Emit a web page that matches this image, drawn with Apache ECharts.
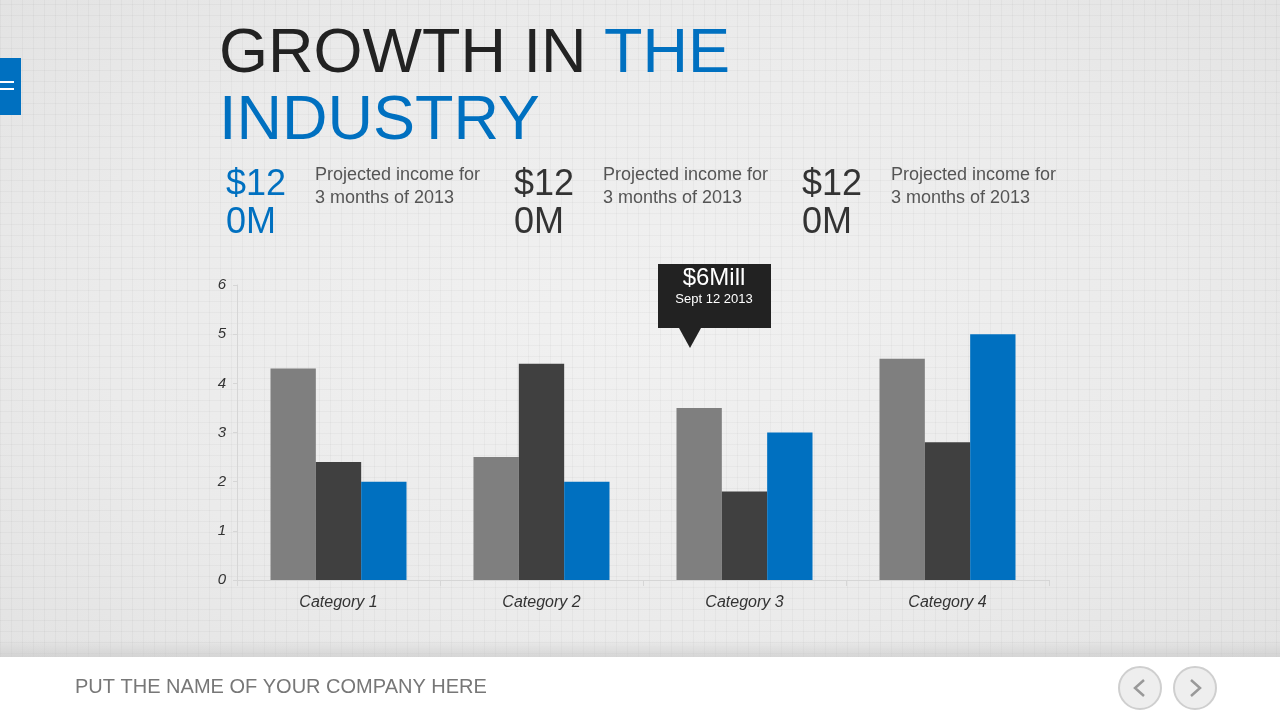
<!DOCTYPE html>
<html><head><meta charset="utf-8">
<script src="https://cdn.jsdelivr.net/npm/echarts@6/dist/echarts.min.js"></script>
<style>
html,body{margin:0;padding:0;width:1280px;height:720px;overflow:hidden;}
body{
 background:
  repeating-linear-gradient(0deg, rgba(0,0,0,0.03) 0px, rgba(0,0,0,0.03) 1px, transparent 1px, transparent 11px),
  repeating-linear-gradient(90deg, rgba(0,0,0,0.03) 0px, rgba(0,0,0,0.03) 1px, transparent 1px, transparent 11px),
  radial-gradient(ellipse 70% 70% at 50% 45%, #f1f1f1 0%, #ebebeb 60%, #e2e2e2 100%);
}
#c{width:1280px;height:720px;}
</style></head>
<body><div id="c"></div>
<script>
const categories = ['Category 1','Category 2','Category 3','Category 4'];
const series1 = [4.3, 2.5, 3.5, 4.5];
const series2 = [2.4, 4.4, 1.8, 2.8];
const series3 = [2.0, 2.0, 3.0, 5.0];
const yTicks = [0,1,2,3,4,5,6];

const hand = "'Segoe Print','Comic Sans MS','Liberation Sans',sans-serif";
const chart = echarts.init(document.getElementById('c'), null, {renderer:'canvas'});

function statBlock(x, color){
  return [
    {type:'text', left:x, top:167, style:{text:'$12', font:'36px '+hand, fill:color}},
    {type:'text', left:x, top:205, style:{text:'0M', font:'36px '+hand, fill:color}},
    {type:'text', left:x+89, top:164, style:{text:'Projected income for\n3 months of 2013', font:'18px "Liberation Sans", Arial, sans-serif', fill:'#555', lineHeight:23}}
  ];
}

const option = {
  animation:false,
  backgroundColor:'transparent',
  grid:{left:237, right:231, top:285, bottom:140, containLabel:false},
  xAxis:{type:'category', data:categories,
    axisLine:{lineStyle:{color:'#d6d6d6'}},
    axisTick:{show:true, length:6, lineStyle:{color:'#d6d6d6'}},
    axisLabel:{color:'#333', fontFamily:hand, fontStyle:'italic', fontSize:16, margin:15}},
  yAxis:{type:'value', min:0, max:6, interval:1,
    axisLine:{show:true, lineStyle:{color:'#d6d6d6'}},
    axisTick:{show:true, length:4, lineStyle:{color:'#d6d6d6'}},
    splitLine:{show:false},
    axisLabel:{color:'#333', fontFamily:hand, fontStyle:'italic', fontSize:15, margin:11,
      formatter:v=>yTicks.includes(v)?String(v):''}},
  series:[
    {type:'bar', data:series1, itemStyle:{color:'#7f7f7f'}, barGap:'0%', barCategoryGap:'33%'},
    {type:'bar', data:series2, itemStyle:{color:'#404040'}, barGap:'0%', barCategoryGap:'33%'},
    {type:'bar', data:series3, itemStyle:{color:'#0070c0'}, barGap:'0%', barCategoryGap:'33%'}
  ],
  graphic:[
    // left blue tab
    {type:'rect', shape:{x:0,y:58,width:21,height:57}, style:{fill:'#0070c0'}},
    {type:'rect', shape:{x:0,y:81,width:14,height:2}, style:{fill:'#fff'}},
    {type:'rect', shape:{x:0,y:88,width:14,height:2}, style:{fill:'#fff'}},
    // title
    {type:'text', left:219, top:23, style:{
      text:'{k|GROWTH IN }{b|THE}', rich:{k:{font:'63px '+hand, fill:'#222'}, b:{font:'63px '+hand, fill:'#0070c0'}}}},
    {type:'text', left:219, top:90, style:{text:'INDUSTRY', font:'63px '+hand, fill:'#0070c0'}},
    ...statBlock(226, '#0070c0'),
    ...statBlock(514, '#333'),
    ...statBlock(802, '#333'),
    // tooltip callout
    {type:'rect', shape:{x:658,y:264,width:113,height:64}, style:{fill:'#222'}},
    {type:'polygon', shape:{points:[[679,328],[701,328],[690,348]]}, style:{fill:'#222'}},
    {type:'text', x:714, y:278, style:{text:'$6Mill', font:'24px '+hand, fill:'#fff', align:'center', verticalAlign:'middle'}},
    {type:'text', x:714, y:299, style:{text:'Sept 12 2013', font:'13px "Liberation Sans", Arial, sans-serif', fill:'#fff', align:'center', verticalAlign:'middle'}},
    // footer
    {type:'rect', shape:{x:0,y:640,width:1280,height:17}, style:{fill:new echarts.graphic.LinearGradient(0,0,0,1,[{offset:0,color:'rgba(200,200,200,0)'},{offset:1,color:'rgba(200,200,200,0.6)'}])}},
    {type:'rect', shape:{x:0,y:657,width:1280,height:63}, style:{fill:'#ffffff'}},
    {type:'text', left:75, top:677, style:{text:'PUT THE NAME OF YOUR COMPANY HERE', font:'20px '+hand, fill:'#777'}},
    {type:'circle', shape:{cx:1140,cy:688,r:21}, style:{fill:'#eeeeee', stroke:'#cfcfcf', lineWidth:2}},
    {type:'circle', shape:{cx:1195,cy:688,r:21}, style:{fill:'#eeeeee', stroke:'#cfcfcf', lineWidth:2}},
    {type:'polyline', shape:{points:[[1144,680],[1135,688],[1144,696]]}, style:{stroke:'#999', lineWidth:2.5, fill:null}},
    {type:'polyline', shape:{points:[[1191,680],[1200,688],[1191,696]]}, style:{stroke:'#999', lineWidth:2.5, fill:null}}
  ]
};
chart.setOption(option);
</script></body></html>
